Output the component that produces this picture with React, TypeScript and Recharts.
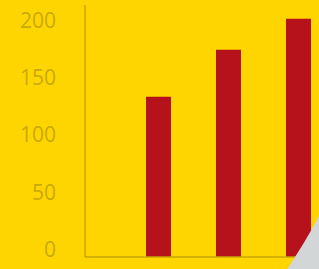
import React from 'react';
import { BarChart, Bar, XAxis, YAxis } from 'recharts';

const categories = ['A', 'B', 'C'];
const values = [140, 181, 208];
const yTicks = [0, 50, 100, 150, 200];

const data = categories.map((name, i) => ({ name, value: values[i] }));

const YTick = (props: any) => {
  const { y, payload } = props;
  return (
    <text
      x={56}
      y={y - 8}
      textAnchor="end"
      dominantBaseline="central"
      fill="#CBA80C"
      fontSize={21}
      fontFamily="'Open Sans', sans-serif"
    >
      {payload.value}
    </text>
  );
};

const App = () => {
  return (
    <div
      style={{
        position: 'absolute',
        left: 0,
        top: 0,
        width: 319,
        height: 269,
        overflow: 'hidden',
        background: '#FFD500',
      }}
    >
      <BarChart
        width={340}
        height={269}
        data={data}
        margin={{ top: 5, right: 7, left: 0, bottom: 10 }}
      >
        <XAxis
          dataKey="name"
          height={2}
          tick={false}
          tickLine={false}
          axisLine={{ stroke: '#C9A500', strokeWidth: 1.5 }}
          padding={{ left: 38, right: 0 }}
        />
        <YAxis
          width={85}
          domain={[0, 220]}
          ticks={yTicks}
          tickLine={false}
          axisLine={{ stroke: '#C9A500', strokeWidth: 1.5 }}
          tick={<YTick />}
        />
        <Bar dataKey="value" fill="#B5121B" barSize={25} isAnimationActive={false} />
      </BarChart>
      <svg
        width={319}
        height={269}
        style={{ position: 'absolute', left: 0, top: 0, pointerEvents: 'none' }}
      >
        <path d="M319 216 Q303 246 287 269 L319 269 Z" fill="#D3D6D6" />
      </svg>
    </div>
  );
};

export default App;
